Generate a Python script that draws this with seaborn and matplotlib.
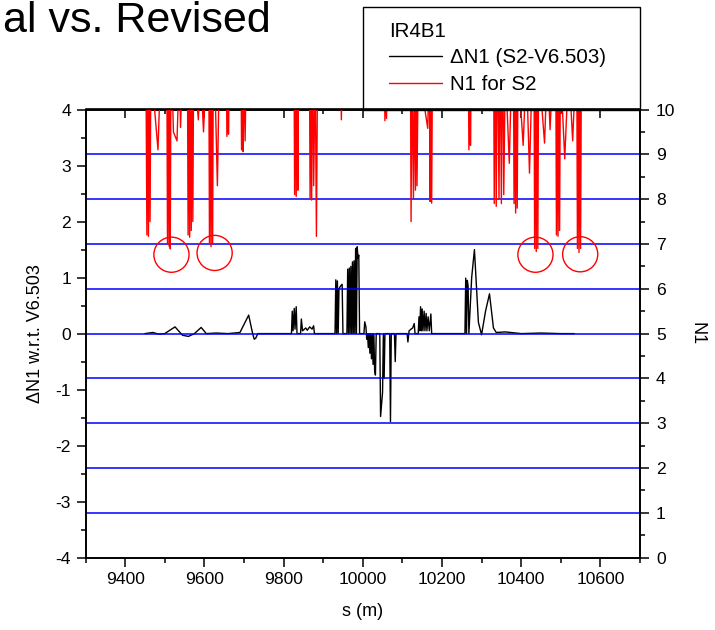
import matplotlib
matplotlib.use("Agg")
import matplotlib.pyplot as plt
import seaborn as sns
from matplotlib.ticker import MultipleLocator
from matplotlib.lines import Line2D
from matplotlib.patches import Rectangle

# ---------------- data ----------------
# Delta N1 (S2 - V6.503), left axis
s_delta = [9450, 9470, 9485, 9500, 9526, 9545, 9560, 9575, 9592, 9605, 9630, 9660, 9690,
           9712, 9722, 9726, 9730, 9735, 9820, 9822, 9824, 9827, 9829, 9832, 9834, 9843,
           9845, 9848, 9856, 9860, 9866, 9872, 9876, 9878, 9930, 9932, 9934, 9936, 9938,
           9940, 9944, 9948, 9950, 9960, 9962, 9964, 9966, 9968, 9970, 9972, 9974, 9976,
           9978, 9980, 9982, 9984, 9986, 9988, 9990, 9992, 10003, 10005, 10008, 10010,
           10012, 10014, 10016, 10018, 10020, 10022, 10024, 10026, 10028, 10030, 10032,
           10034, 10043, 10045, 10050, 10052, 10054, 10056, 10068, 10070, 10072, 10080,
           10082, 10084, 10112, 10114, 10117, 10122, 10126, 10130, 10132, 10140, 10142,
           10144, 10146, 10148, 10150, 10152, 10155, 10157, 10160, 10162, 10165, 10168,
           10172, 10174, 10258, 10260, 10262, 10264, 10266, 10268, 10275, 10282, 10292,
           10300, 10310, 10320, 10330, 10337, 10360, 10400, 10450, 10500, 10534]
dn1 = [0.0, 0.02, -0.01, 0.0, 0.12, -0.03, -0.05, 0.0, 0.11, 0.0, 0.01, 0.0, 0.02,
       0.33, 0.0, -0.1, -0.08, 0.0, 0.0, 0.40, 0.05, 0.45, 0.08, 0.48, 0.0, 0.0,
       0.26, 0.05, 0.10, 0.06, 0.12, 0.08, 0.14, 0.0, 0.0, 0.96, 0.0, 0.94, 0.0,
       0.80, 0.85, 0.88, 0.0, 0.0, 1.15, 0.0, 1.17, 0.0, 1.20, 0.0, 1.28, 0.0,
       1.30, 0.0, 1.52, 0.0, 1.55, 1.35, 1.40, 0.0, 0.0, 0.21, 0.12, -0.10,
       0.0, -0.25, 0.0, -0.35, 0.0, -0.45, 0.0, -0.55, 0.0, -0.65, -0.74,
       0.0, 0.0, -1.48, -1.05, 0.0, -0.80, 0.0, 0.0, -1.57, 0.0, 0.0,
       -0.50, 0.0, 0.0, -0.15, 0.05, 0.08, 0.10, 0.18, 0.0, 0.0, 0.30,
       0.05, 0.48, 0.05, 0.44, 0.05, 0.40, 0.05, 0.36, 0.05, 0.30, 0.05,
       0.35, 0.0, 0.0, 0.99, 0.0, 0.95, 0.85, 0.0, 1.0, 1.50, 0.2,
       -0.02, 0.4, 0.71, 0.1, 0.02, 0.03, 0.0, 0.01, 0.0, 0.0]

# N1 for S2, right axis (values above 10 run off the top of the frame)
s_n1 = [9452, 9455, 9457, 9459, 9461, 9463, 9465, 9483, 9490, 9505, 9507, 9509, 9511,
        9513, 9514, 9516, 9522, 9531, 9537, 9540, 9545, 9557, 9559, 9561, 9563, 9565,
        9567, 9569, 9571, 9573, 9585, 9590, 9598, 9605, 9611, 9613, 9615, 9617, 9619,
        9621, 9623, 9633, 9638, 9655, 9657, 9659, 9661, 9663, 9692, 9694, 9696, 9698,
        9700, 9703, 9706, 9826, 9828, 9830, 9832, 9834, 9836, 9838, 9865, 9867, 9869,
        9871, 9873, 9876, 9880, 9883, 9886, 9944, 9946, 9948, 10054, 10056, 10058,
        10060, 10062, 10120, 10122, 10124, 10128, 10130, 10133, 10135, 10137, 10140,
        10164, 10168, 10170, 10172, 10174, 10176, 10266, 10268, 10270, 10272, 10274,
        10330, 10332, 10334, 10337, 10340, 10344, 10347, 10350, 10353, 10356, 10360,
        10370, 10376, 10380, 10382, 10384, 10386, 10388, 10390, 10392, 10405, 10413,
        10421, 10428, 10432, 10434, 10436, 10438, 10440, 10442, 10444, 10459, 10466,
        10473, 10480, 10487, 10489, 10491, 10493, 10495, 10497, 10499, 10510, 10520,
        10530, 10538, 10540, 10542, 10544, 10546, 10548, 10550, 10552]
n1 = [12, 7.2, 12, 7.17, 12, 7.5, 11, 9.1, 11, 12, 7.0, 12, 6.95,
      12, 6.89, 11.5, 9.5, 9.3, 11, 9.6, 11, 12, 7.2, 12, 7.15, 12,
      7.3, 12, 7.5, 11, 9.77, 11, 9.5, 11, 12, 7.0, 12, 6.94, 12,
      7.0, 12, 8.3, 11, 12, 9.4, 12, 9.45, 11, 12, 9.1, 12, 9.06,
      11, 9.3, 11, 12, 8.1, 12, 8.06, 12, 8.2, 11, 12, 8.0, 12,
      7.98, 12, 8.3, 11, 7.17, 11, 11, 9.77, 11, 11, 9.75, 11,
      9.8, 11, 12, 7.5, 11, 8.0, 11, 8.2, 12, 8.3, 11,
      9.58, 11, 7.95, 12, 7.91, 11, 12, 9.1, 12, 9.2, 11,
      12, 7.9, 12, 7.84, 12, 8.0, 12, 7.9, 12, 8.1, 11,
      8.8, 11, 12, 7.9, 12, 7.69, 12, 7.8, 11, 9.2, 11,
      8.58, 11, 12, 6.9, 12, 6.83, 12, 6.9, 11, 9.25, 11,
      9.55, 11, 12, 7.2, 12, 7.17, 12, 7.3, 11, 8.9, 11,
      9.3, 11, 12, 6.9, 12, 6.81, 12, 6.9, 11]

blue_levels = [1, 2, 3, 4, 5, 6, 7, 8, 9]
circle_s = [9517, 9626, 10436, 10549]
circle_n1 = [6.76, 6.80, 6.76, 6.77]

x_ticks = [9400, 9600, 9800, 10000, 10200, 10400, 10600]
left_ticks = [-4, -3, -2, -1, 0, 1, 2, 3, 4]
right_ticks = [0, 1, 2, 3, 4, 5, 6, 7, 8, 9, 10]

# ---------------- style ----------------
sns.set_style("ticks")
plt.rcParams["font.family"] = ["Liberation Sans", "DejaVu Sans"]
plt.rcParams["axes.unicode_minus"] = False
for key in ["text.color", "axes.labelcolor", "xtick.color", "ytick.color",
            "xtick.labelcolor", "ytick.labelcolor", "axes.edgecolor"]:
    plt.rcParams[key] = "black"
FS = 12.6
LFS = 14.8

fig = plt.figure(figsize=(7.15, 6.3), dpi=100)
L, R, T, B = 85.5, 640, 109.5, 557.7
ax = fig.add_axes([L / 715, 1 - B / 630, (R - L) / 715, (B - T) / 630])
ax2 = ax.twinx()

# blue reference lines (right axis)
for lv in blue_levels:
    ax2.axhline(lv, color="#0000ff", lw=1.1, zorder=1)

sns.lineplot(x=s_delta, y=dn1, ax=ax, color="black", lw=1.0,
             estimator=None, sort=False, zorder=3)
sns.lineplot(x=s_n1, y=n1, ax=ax2, color="#ff0000", lw=1.0,
             estimator=None, sort=False, zorder=3)
sns.scatterplot(x=circle_s, y=circle_n1, ax=ax2, s=640, marker="o",
                facecolor="none", edgecolor="#ff0000", linewidth=1.0, zorder=4)

ax.set_xlim(9300, 10700)
ax.set_ylim(-4, 4)
ax2.set_ylim(0, 10)
ax.set_xticks(x_ticks)
ax.set_yticks(left_ticks)
ax2.set_yticks(right_ticks)
ax.xaxis.set_minor_locator(MultipleLocator(100))
ax.yaxis.set_minor_locator(MultipleLocator(0.5))
ax2.yaxis.set_minor_locator(MultipleLocator(0.5))

for a in (ax, ax2):
    for sp in a.spines.values():
        sp.set_visible(True)
        sp.set_linewidth(1.2)
        sp.set_color("black")
    a.tick_params(which="major", length=6.5, width=1.1, labelsize=FS,
                  color="black", labelcolor="black")
    a.tick_params(which="minor", length=3.6, width=1.1, color="black")
ax.tick_params(axis="both", which="both", direction="out")
ax.tick_params(axis="y", pad=4)
ax2.tick_params(axis="y", which="both", direction="out", pad=5)

sec = ax.secondary_xaxis("top")
sec.xaxis.set_major_locator(MultipleLocator(200))
sec.xaxis.set_minor_locator(MultipleLocator(100))
sec.tick_params(which="both", direction="in", labeltop=False, width=1.1, color="black")
sec.tick_params(which="major", length=6.5)
sec.tick_params(which="minor", length=3.6)
sec.spines["top"].set_linewidth(1.2)
sec.spines["top"].set_color("black")

ax.set_xlabel("s (m)", fontsize=13, labelpad=12, color="black")
ax.set_ylabel("ΔN1 w.r.t. V6.503", fontsize=13, labelpad=8, color="black")
ax2.set_ylabel("N1", fontsize=13, rotation=270, labelpad=22, color="black")
ax.grid(False)
ax2.grid(False)

# title fragment
fig.text(3 / 715, 1 - 31.5 / 630, "al vs. Revised", fontsize=31, va="baseline",
         ha="left", color="black")

# legend box
fig.patches.append(Rectangle((363 / 715, 1 - 110 / 630), 277 / 715, 103 / 630,
                             transform=fig.transFigure, fill=False,
                             edgecolor="black", lw=1.0))
handles = [Line2D([], [], color="black", lw=1.0), Line2D([], [], color="#ff0000", lw=1.0)]
leg = fig.legend(handles, ["ΔN1 (S2-V6.503)", "N1 for S2"], title="IR4B1",
                 loc="upper left", bbox_to_anchor=(389 / 715, 1 - 22 / 630),
                 frameon=False, fontsize=LFS, title_fontsize=LFS, alignment="left",
                 borderpad=0, borderaxespad=0, handlelength=2.6, handletextpad=0.38,
                 labelspacing=0.36, labelcolor="black")
leg.get_title().set_color("black")

fig.savefig("out.png", dpi=100)
